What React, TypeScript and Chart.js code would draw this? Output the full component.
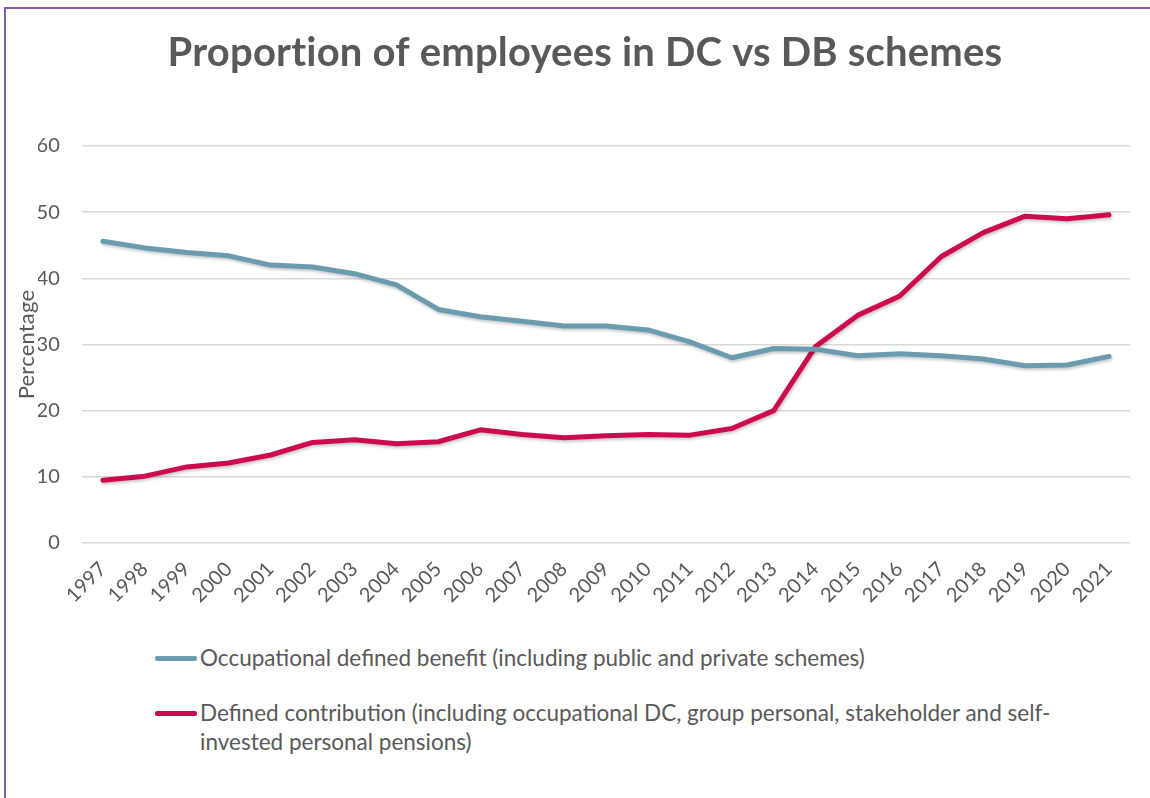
import React, { useEffect, useRef } from 'react';
import { Chart, registerables } from 'chart.js';

Chart.register(...registerables);

const titleText = 'Proportion of employees in DC vs DB schemes';
const yAxisTitle = 'Percentage';

const years = [
  '1997', '1998', '1999', '2000', '2001', '2002', '2003', '2004', '2005', '2006',
  '2007', '2008', '2009', '2010', '2011', '2012', '2013', '2014', '2015', '2016',
  '2017', '2018', '2019', '2020', '2021',
];

const dbValues = [
  45.6, 44.6, 43.9, 43.4, 42.0, 41.7, 40.7, 39.0, 35.3, 34.2,
  33.5, 32.8, 32.8, 32.2, 30.4, 28.0, 29.4, 29.3, 28.3, 28.6,
  28.3, 27.8, 26.8, 26.9, 28.2,
];

const dcValues = [
  9.5, 10.1, 11.5, 12.1, 13.3, 15.2, 15.6, 15.0, 15.3, 17.1,
  16.4, 15.9, 16.2, 16.4, 16.3, 17.3, 20.0, 29.7, 34.4, 37.3,
  43.3, 46.9, 49.4, 49.0, 49.6,
];

const yMin = 0;
const yMax = 60;
const yStep = 10;

const dbLabel = 'Occupational defined benefit (including public and private schemes)';
const dcLabelLines = [
  'Defined contribution (including occupational DC, group personal, stakeholder and self-',
  'invested personal pensions)',
];

const dbColor = '#6a9bb1';
const dcColor = '#cd0a4f';
const textColor = '#595959';
const gridColor = '#d9d9d9';
const frameColor = '#7f5fa8';
const fontFamily = 'Lato, "Open Sans", sans-serif';

const shadowPlugin = {
  id: 'lineShadow',
  beforeDraw(chart: any) {
    chart.ctx.letterSpacing = '0.2px';
  },
  beforeDatasetsDraw(chart: any) {
    chart.ctx.letterSpacing = '0px';
  },
  beforeDatasetDraw(chart: any) {
    const ctx = chart.ctx;
    ctx.save();
    ctx.shadowColor = 'rgba(0,0,0,0.22)';
    ctx.shadowBlur = 3;
    ctx.shadowOffsetX = 1;
    ctx.shadowOffsetY = 2;
  },
  afterDatasetDraw(chart: any) {
    chart.ctx.restore();
  },
};

export default function App() {
  const canvasRef = useRef<HTMLCanvasElement | null>(null);

  useEffect(() => {
    if (!canvasRef.current) return;
    const chart = new Chart(canvasRef.current, {
      type: 'line',
      data: {
        labels: years,
        datasets: [
          {
            label: dbLabel,
            data: dbValues,
            borderColor: dbColor,
            backgroundColor: dbColor,
            borderWidth: 5,
            pointRadius: 0,
            tension: 0,
            borderCapStyle: 'round',
            borderJoinStyle: 'round',
          },
          {
            label: dcLabelLines.join(''),
            data: dcValues,
            borderColor: dcColor,
            backgroundColor: dcColor,
            borderWidth: 5,
            pointRadius: 0,
            tension: 0,
            borderCapStyle: 'round',
            borderJoinStyle: 'round',
          },
        ],
      },
      options: {
        animation: false,
        responsive: true,
        maintainAspectRatio: false,
        layout: { padding: { left: 28, right: 0, top: 0, bottom: 0 } },
        plugins: {
          legend: { display: false },
          tooltip: { enabled: false },
          title: {
            display: true,
            text: titleText,
            color: textColor,
            font: { family: fontFamily, size: 40, weight: 'bold' },
            padding: { top: 29, bottom: 69 },
          },
        },
        scales: {
          x: {
            offset: true,
            grid: { display: false },
            border: { display: false },
            ticks: {
              color: textColor,
              font: { family: fontFamily, size: 20 },
              maxRotation: 45,
              minRotation: 45,
              autoSkip: false,
              padding: 6,
            },
            afterFit(scale: any) {
              scale.height = 60;
            },
          },
          y: {
            min: yMin,
            max: yMax,
            grid: { color: gridColor, lineWidth: 1.5, drawTicks: false },
            border: { display: false },
            ticks: {
              stepSize: yStep,
              color: textColor,
              font: { family: fontFamily, size: 20 },
              padding: 22,
            },
            title: {
              display: true,
              text: yAxisTitle,
              color: textColor,
              font: { family: fontFamily, size: 22 },
              padding: { top: -24, bottom: 0 },
            },
            afterFit(scale: any) {
              scale.width = 44;
            },
          },
        },
      },
      plugins: [shadowPlugin],
    } as any);
    return () => chart.destroy();
  }, []);

  const markerStyle = (color: string): React.CSSProperties => ({
    display: 'inline-block',
    width: 42,
    height: 5,
    borderRadius: 2,
    background: color,
    marginTop: 13,
    marginRight: 3,
    flex: '0 0 auto',
  });

  const rowText: React.CSSProperties = {
    fontFamily,
    fontSize: 22.5,
    lineHeight: '29px',
    color: textColor,
    whiteSpace: 'nowrap',
  };

  return (
    <div
      style={{
        position: 'fixed',
        left: 0,
        top: 0,
        width: 1150,
        height: 798,
        overflow: 'hidden',
        background: '#ffffff',
      }}
    >
      <div
        style={{
          position: 'absolute',
          left: 4,
          top: 7,
          width: 1300,
          height: 1000,
          borderTop: `2px solid ${frameColor}`,
          borderLeft: `2px solid ${frameColor}`,
        }}
      />
      <div style={{ position: 'absolute', left: 10, top: 0, width: 1122, height: 603 }}>
        <canvas ref={canvasRef} />
      </div>
      <div style={{ position: 'absolute', left: 155, top: 643 }}>
        <div style={{ display: 'flex', alignItems: 'flex-start' }}>
          <span style={markerStyle(dbColor)} />
          <div style={rowText}>{dbLabel}</div>
        </div>
        <div style={{ display: 'flex', alignItems: 'flex-start', marginTop: 26 }}>
          <span style={markerStyle(dcColor)} />
          <div style={rowText}>
            {dcLabelLines.map((l, i) => (
              <div key={i}>{l}</div>
            ))}
          </div>
        </div>
      </div>
    </div>
  );
}
